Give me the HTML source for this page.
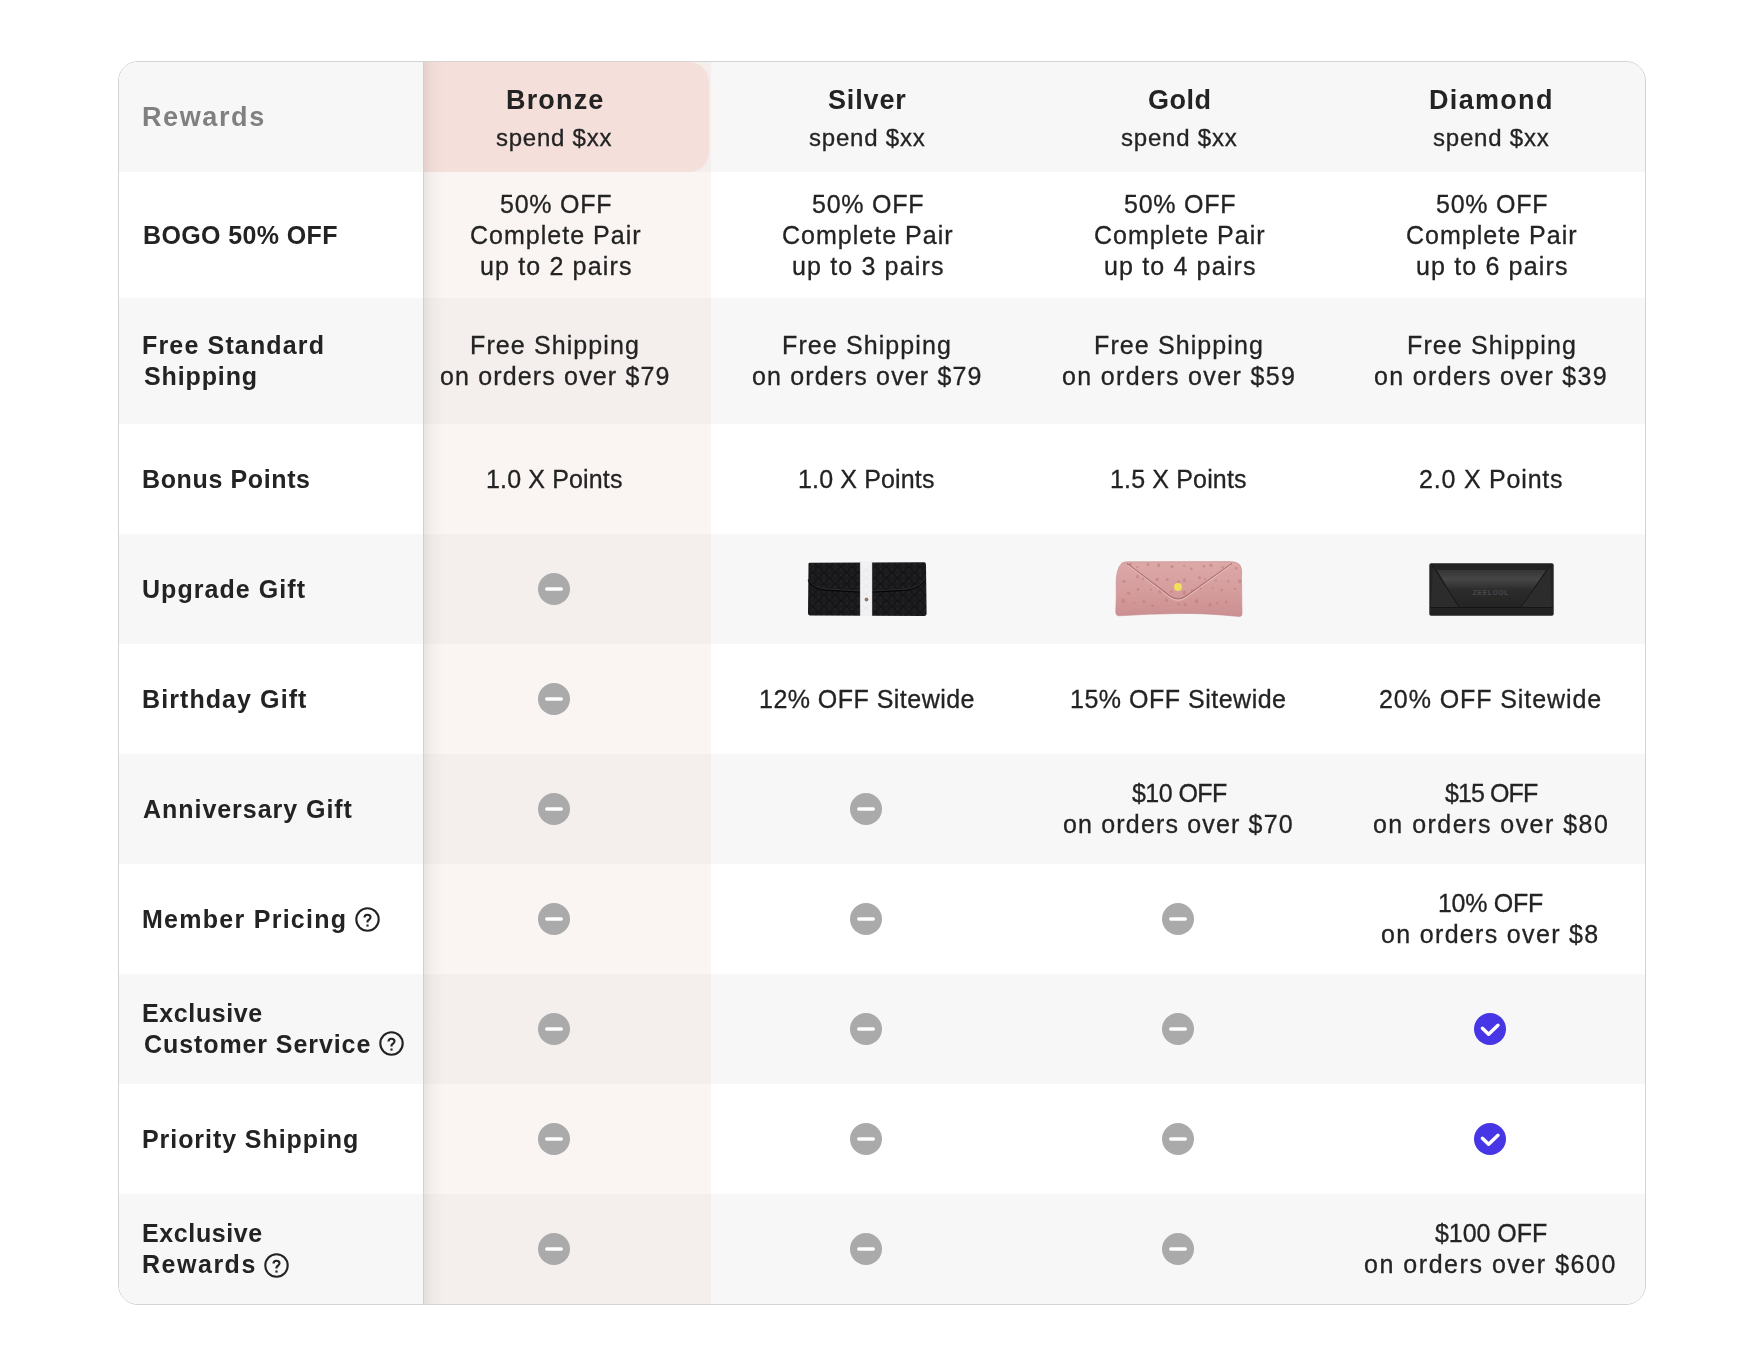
<!DOCTYPE html><html><head><meta charset="utf-8"><style>*{margin:0;padding:0;box-sizing:border-box}
html,body{width:1764px;height:1367px;background:#fff;overflow:hidden}
body{font-family:"Liberation Sans",sans-serif;color:#232323;position:relative}
#t{position:absolute;left:118px;top:61px;width:1528px;height:1244px;border:1px solid #d3d3d3;border-radius:20px;overflow:hidden;background:#fff}
.r{position:absolute;left:0;width:1526px}
.g{background:#f7f7f7}.w{background:#fff}
.tint{position:absolute}.wt{background:#faf5f3}.gt{background:#f4efed}
.pink{position:absolute;background:#f4dfdb;border-radius:0 20px 20px 0}
.lab{position:absolute;left:0;width:305px;border-right:1px solid #d0d0d0}
.shadow{position:absolute;top:0;left:305px;width:20px;height:1242px;background:linear-gradient(to right,rgba(0,0,0,0.065),rgba(0,0,0,0.025) 40%,rgba(0,0,0,0))}
.x{position:absolute;white-space:nowrap;line-height:31px;height:31px;will-change:transform}
.i{position:absolute}.i svg{display:block}
</style></head><body><div id="t">
<div class="r g" style="top:0px;height:110px"></div>
<div class="r w" style="top:110px;height:126px"></div>
<div class="r g" style="top:236px;height:126px"></div>
<div class="r w" style="top:362px;height:110px"></div>
<div class="r g" style="top:472px;height:110px"></div>
<div class="r w" style="top:582px;height:110px"></div>
<div class="r g" style="top:692px;height:110px"></div>
<div class="r w" style="top:802px;height:110px"></div>
<div class="r g" style="top:912px;height:110px"></div>
<div class="r w" style="top:1022px;height:110px"></div>
<div class="r g" style="top:1132px;height:110px"></div>
<div class="tint gt" style="left:280px;width:312px;top:0px;height:110px"></div>
<div class="tint wt" style="left:280px;width:312px;top:110px;height:126px"></div>
<div class="tint gt" style="left:280px;width:312px;top:236px;height:126px"></div>
<div class="tint wt" style="left:280px;width:312px;top:362px;height:110px"></div>
<div class="tint gt" style="left:280px;width:312px;top:472px;height:110px"></div>
<div class="tint wt" style="left:280px;width:312px;top:582px;height:110px"></div>
<div class="tint gt" style="left:280px;width:312px;top:692px;height:110px"></div>
<div class="tint wt" style="left:280px;width:312px;top:802px;height:110px"></div>
<div class="tint gt" style="left:280px;width:312px;top:912px;height:110px"></div>
<div class="tint wt" style="left:280px;width:312px;top:1022px;height:110px"></div>
<div class="tint gt" style="left:280px;width:312px;top:1132px;height:110px"></div>
<div class="pink" style="left:280px;top:0;width:310px;height:110px"></div>
<div class="i" style="left:419.00px;top:621.00px"><svg width="32" height="32" viewBox="0 0 32 32"><circle cx="16" cy="16" r="16" fill="#aaaaaa"/><line x1="8.75" y1="16" x2="23.25" y2="16" stroke="#fff" stroke-width="3.5" stroke-linecap="round"/></svg></div>
<div class="i" style="left:419.00px;top:731.00px"><svg width="32" height="32" viewBox="0 0 32 32"><circle cx="16" cy="16" r="16" fill="#aaaaaa"/><line x1="8.75" y1="16" x2="23.25" y2="16" stroke="#fff" stroke-width="3.5" stroke-linecap="round"/></svg></div>
<div class="i" style="left:731.00px;top:731.00px"><svg width="32" height="32" viewBox="0 0 32 32"><circle cx="16" cy="16" r="16" fill="#aaaaaa"/><line x1="8.75" y1="16" x2="23.25" y2="16" stroke="#fff" stroke-width="3.5" stroke-linecap="round"/></svg></div>
<div class="i" style="left:419.00px;top:841.00px"><svg width="32" height="32" viewBox="0 0 32 32"><circle cx="16" cy="16" r="16" fill="#aaaaaa"/><line x1="8.75" y1="16" x2="23.25" y2="16" stroke="#fff" stroke-width="3.5" stroke-linecap="round"/></svg></div>
<div class="i" style="left:731.00px;top:841.00px"><svg width="32" height="32" viewBox="0 0 32 32"><circle cx="16" cy="16" r="16" fill="#aaaaaa"/><line x1="8.75" y1="16" x2="23.25" y2="16" stroke="#fff" stroke-width="3.5" stroke-linecap="round"/></svg></div>
<div class="i" style="left:1043.00px;top:841.00px"><svg width="32" height="32" viewBox="0 0 32 32"><circle cx="16" cy="16" r="16" fill="#aaaaaa"/><line x1="8.75" y1="16" x2="23.25" y2="16" stroke="#fff" stroke-width="3.5" stroke-linecap="round"/></svg></div>
<div class="i" style="left:419.00px;top:951.00px"><svg width="32" height="32" viewBox="0 0 32 32"><circle cx="16" cy="16" r="16" fill="#aaaaaa"/><line x1="8.75" y1="16" x2="23.25" y2="16" stroke="#fff" stroke-width="3.5" stroke-linecap="round"/></svg></div>
<div class="i" style="left:731.00px;top:951.00px"><svg width="32" height="32" viewBox="0 0 32 32"><circle cx="16" cy="16" r="16" fill="#aaaaaa"/><line x1="8.75" y1="16" x2="23.25" y2="16" stroke="#fff" stroke-width="3.5" stroke-linecap="round"/></svg></div>
<div class="i" style="left:1043.00px;top:951.00px"><svg width="32" height="32" viewBox="0 0 32 32"><circle cx="16" cy="16" r="16" fill="#aaaaaa"/><line x1="8.75" y1="16" x2="23.25" y2="16" stroke="#fff" stroke-width="3.5" stroke-linecap="round"/></svg></div>
<div class="i" style="left:419.00px;top:1061.00px"><svg width="32" height="32" viewBox="0 0 32 32"><circle cx="16" cy="16" r="16" fill="#aaaaaa"/><line x1="8.75" y1="16" x2="23.25" y2="16" stroke="#fff" stroke-width="3.5" stroke-linecap="round"/></svg></div>
<div class="i" style="left:731.00px;top:1061.00px"><svg width="32" height="32" viewBox="0 0 32 32"><circle cx="16" cy="16" r="16" fill="#aaaaaa"/><line x1="8.75" y1="16" x2="23.25" y2="16" stroke="#fff" stroke-width="3.5" stroke-linecap="round"/></svg></div>
<div class="i" style="left:1043.00px;top:1061.00px"><svg width="32" height="32" viewBox="0 0 32 32"><circle cx="16" cy="16" r="16" fill="#aaaaaa"/><line x1="8.75" y1="16" x2="23.25" y2="16" stroke="#fff" stroke-width="3.5" stroke-linecap="round"/></svg></div>
<div class="i" style="left:419.00px;top:1171.00px"><svg width="32" height="32" viewBox="0 0 32 32"><circle cx="16" cy="16" r="16" fill="#aaaaaa"/><line x1="8.75" y1="16" x2="23.25" y2="16" stroke="#fff" stroke-width="3.5" stroke-linecap="round"/></svg></div>
<div class="i" style="left:731.00px;top:1171.00px"><svg width="32" height="32" viewBox="0 0 32 32"><circle cx="16" cy="16" r="16" fill="#aaaaaa"/><line x1="8.75" y1="16" x2="23.25" y2="16" stroke="#fff" stroke-width="3.5" stroke-linecap="round"/></svg></div>
<div class="i" style="left:1043.00px;top:1171.00px"><svg width="32" height="32" viewBox="0 0 32 32"><circle cx="16" cy="16" r="16" fill="#aaaaaa"/><line x1="8.75" y1="16" x2="23.25" y2="16" stroke="#fff" stroke-width="3.5" stroke-linecap="round"/></svg></div>
<div class="i" style="left:419.00px;top:511.00px"><svg width="32" height="32" viewBox="0 0 32 32"><circle cx="16" cy="16" r="16" fill="#aaaaaa"/><line x1="8.75" y1="16" x2="23.25" y2="16" stroke="#fff" stroke-width="3.5" stroke-linecap="round"/></svg></div>
<div class="i" style="left:1355.00px;top:951.00px"><svg width="32" height="32" viewBox="0 0 32 32"><circle cx="16" cy="16" r="16" fill="#4636e6"/><polyline points="8.4,15.2 14.6,21.3 24.0,12.3" fill="none" stroke="#fff" stroke-width="3.4" stroke-linecap="round" stroke-linejoin="round"/></svg></div>
<div class="i" style="left:1355.00px;top:1061.00px"><svg width="32" height="32" viewBox="0 0 32 32"><circle cx="16" cy="16" r="16" fill="#4636e6"/><polyline points="8.4,15.2 14.6,21.3 24.0,12.3" fill="none" stroke="#fff" stroke-width="3.4" stroke-linecap="round" stroke-linejoin="round"/></svg></div>
<div class="i" style="left:687.85px;top:499.30px"><svg width="120" height="56" viewBox="0 0 120 56"><defs><pattern id="wv" width="8" height="8" patternUnits="userSpaceOnUse" patternTransform="rotate(45)"><rect width="8" height="8" fill="#1b1b1e"/><path d="M0 4 H4 V0 M4 8 V4 H8" stroke="#0f0f11" stroke-width="0.9" fill="none"/><rect x="1" y="1" width="2.2" height="2.2" fill="#222226"/><rect x="5" y="5" width="2.2" height="2.2" fill="#222226"/></pattern></defs>
<path d="M1.5 2.8 Q1.2 1.8 3 1.7 L117 1.2 Q119 1.3 119 3.5 L119.6 52.5 Q119.6 55 117 55 L3 54.4 Q0.8 54.2 1 52 Z" fill="url(#wv)"/>
<path d="M1.2 19 Q4 27 18 29 L53 31 M65 31 L100 29 Q114 27 118.5 18" fill="none" stroke="#050507" stroke-width="1.3"/>
<path d="M1.2 18 Q4 26 18 28 L53 30 M65 30 L100 28 Q114 26 118.5 17" fill="none" stroke="#34343a" stroke-width="0.7"/>
<rect x="53.2" y="0.2" width="11.8" height="54.8" fill="#f1f1f3"/><path d="M53.4 0 V55 M64.8 0 V55" stroke="#dcdce0" stroke-width="0.7"/>
<path d="M55 6 L63 12 M55 14 L63 20 M55 22 L63 28 M55 30 L63 36 M55 44 L63 50 M63 6 L55 12 M63 14 L55 20 M63 22 L55 28 M63 30 L55 36 M63 44 L55 50" stroke="#e4e4e8" stroke-width="0.6"/>
<circle cx="59.5" cy="38.5" r="1.9" fill="#8c7c68"/></svg></div>
<div class="i" style="left:995.90px;top:499.10px"><svg width="128" height="56" viewBox="0 0 128 56"><defs><linearGradient id="pk" x1="0" y1="0" x2="0" y2="1"><stop offset="0" stop-color="#dca9a8"/><stop offset="0.55" stop-color="#d69d9d"/><stop offset="1" stop-color="#cb8f91"/></linearGradient><clipPath id="pc"><path d="M7 2 Q9 0.6 14 0.8 L114 0.6 Q122 0.6 125 4 Q127.5 8 126.5 16 L127 53 Q127 55.6 124 55.5 Q90 52 64 52.5 Q34 52.8 4 54.8 Q0.5 55 0.8 50 Q1.5 35 1.2 22 Q1 8 7 2 Z"/></clipPath></defs>
<path d="M7 2 Q9 0.6 14 0.8 L114 0.6 Q122 0.6 125 4 Q127.5 8 126.5 16 L127 53 Q127 55.6 124 55.5 Q90 52 64 52.5 Q34 52.8 4 54.8 Q0.5 55 0.8 50 Q1.5 35 1.2 22 Q1 8 7 2 Z" fill="url(#pk)" stroke="#c48c8e" stroke-width="0.6"/>
<g clip-path="url(#pc)" fill="#c27a7e" opacity="0.6"><ellipse cx="15.4" cy="3.4" rx="1.5" ry="1.4"/><ellipse cx="22.3" cy="6.0" rx="1.1" ry="1.1"/><ellipse cx="32.9" cy="3.5" rx="1.4" ry="1.7"/><ellipse cx="43.7" cy="4.3" rx="1.5" ry="2.0"/><ellipse cx="57.0" cy="5.4" rx="1.8" ry="1.5"/><ellipse cx="69.2" cy="4.7" rx="1.2" ry="1.0"/><ellipse cx="76.4" cy="7.9" rx="1.2" ry="1.3"/><ellipse cx="88.8" cy="5.2" rx="1.5" ry="1.2"/><ellipse cx="95.9" cy="4.2" rx="1.6" ry="1.6"/><ellipse cx="107.9" cy="6.5" rx="1.4" ry="1.3"/><ellipse cx="121.3" cy="7.2" rx="1.3" ry="1.4"/><ellipse cx="9.2" cy="20.3" rx="1.6" ry="1.5"/><ellipse cx="22.4" cy="15.7" rx="1.4" ry="1.6"/><ellipse cx="27.9" cy="17.9" rx="1.1" ry="1.3"/><ellipse cx="42.1" cy="18.4" rx="1.7" ry="1.6"/><ellipse cx="52.2" cy="18.6" rx="1.5" ry="1.5"/><ellipse cx="63.5" cy="20.7" rx="1.4" ry="1.6"/><ellipse cx="69.4" cy="19.2" rx="1.6" ry="2.0"/><ellipse cx="84.4" cy="16.7" rx="1.4" ry="1.6"/><ellipse cx="90.1" cy="17.8" rx="1.2" ry="1.0"/><ellipse cx="100.9" cy="19.6" rx="1.2" ry="1.1"/><ellipse cx="113.3" cy="20.2" rx="1.2" ry="1.2"/><ellipse cx="124.8" cy="20.3" rx="1.7" ry="2.1"/><ellipse cx="13.7" cy="32.3" rx="1.8" ry="1.5"/><ellipse cx="23.1" cy="28.4" rx="1.3" ry="1.3"/><ellipse cx="36.0" cy="28.6" rx="1.1" ry="1.1"/><ellipse cx="45.2" cy="30.4" rx="1.8" ry="2.0"/><ellipse cx="56.6" cy="30.7" rx="1.6" ry="1.3"/><ellipse cx="69.4" cy="31.7" rx="1.7" ry="2.1"/><ellipse cx="76.9" cy="29.4" rx="1.2" ry="1.3"/><ellipse cx="85.4" cy="27.4" rx="1.2" ry="1.1"/><ellipse cx="97.5" cy="27.3" rx="1.1" ry="1.0"/><ellipse cx="106.6" cy="29.2" rx="1.1" ry="1.4"/><ellipse cx="120.2" cy="27.9" rx="1.3" ry="1.2"/><ellipse cx="8.2" cy="39.7" rx="1.7" ry="2.2"/><ellipse cx="19.3" cy="41.9" rx="1.2" ry="1.0"/><ellipse cx="29.1" cy="40.6" rx="1.7" ry="1.5"/><ellipse cx="37.6" cy="44.7" rx="1.5" ry="1.3"/><ellipse cx="51.3" cy="39.2" rx="1.5" ry="1.9"/><ellipse cx="63.7" cy="43.2" rx="1.3" ry="1.3"/><ellipse cx="70.0" cy="43.6" rx="1.5" ry="1.8"/><ellipse cx="81.5" cy="40.3" rx="1.7" ry="2.2"/><ellipse cx="95.1" cy="43.8" rx="1.7" ry="2.0"/><ellipse cx="101.9" cy="42.1" rx="1.3" ry="1.1"/><ellipse cx="111.2" cy="40.7" rx="1.3" ry="1.5"/></g>
<path d="M12 2.5 L55 35 Q63 40.5 71 35 L117 2.5" fill="none" stroke="#ad7276" stroke-width="1.2"/>
<path d="M13 4.2 L55 36.6 Q63 42.2 71 36.6 L116 4.2" fill="none" stroke="#e9c2c1" stroke-width="0.9"/>
<circle cx="63" cy="25.9" r="3.9" fill="#efe25a"/></svg></div>
<div class="i" style="left:1309.50px;top:501.05px"><svg width="125" height="53" viewBox="0 0 125 53"><defs><linearGradient id="lg" x1="0" y1="0" x2="0" y2="1"><stop offset="0" stop-color="#353535"/><stop offset="0.25" stop-color="#464646"/><stop offset="0.55" stop-color="#2b2b2b"/><stop offset="1" stop-color="#242424"/></linearGradient></defs>
<rect x="0.3" y="0.3" width="124.4" height="52.4" rx="1.8" fill="#232323"/>
<path d="M2 44 L4 3 L30 44 Z M123 44 L121 3 L92 44 Z" fill="#2c2c2c"/>
<path d="M8 7 L117 7 L92 44 L30 44 Z" fill="url(#lg)"/>
<path d="M3 2 L30 44 M122 2 L92 44" stroke="#141414" stroke-width="0.8"/>
<path d="M1 44.5 H124" stroke="#141414" stroke-width="0.9"/>
<text x="62" y="31.5" font-family="Liberation Sans" font-size="6.5" font-weight="700" letter-spacing="0.8" fill="#4a4a4a" text-anchor="middle">ZEELOOL</text></svg></div>
<div class="lab g" style="top:0px;height:110px"></div>
<div class="lab w" style="top:110px;height:126px"></div>
<div class="lab g" style="top:236px;height:126px"></div>
<div class="lab w" style="top:362px;height:110px"></div>
<div class="lab g" style="top:472px;height:110px"></div>
<div class="lab w" style="top:582px;height:110px"></div>
<div class="lab g" style="top:692px;height:110px"></div>
<div class="lab w" style="top:802px;height:110px"></div>
<div class="lab g" style="top:912px;height:110px"></div>
<div class="lab w" style="top:1022px;height:110px"></div>
<div class="lab g" style="top:1132px;height:110px"></div>
<div class="shadow"></div>
<div class="x" style="left:23.40px;top:40px;font-size:27px;font-weight:700;letter-spacing:1.600px;color:#808080">Rewards</div>
<div class="x" style="left:387.00px;top:23px;font-size:27px;font-weight:700;letter-spacing:1.160px;color:#232323">Bronze</div>
<div class="x" style="left:709.30px;top:23px;font-size:27px;font-weight:700;letter-spacing:0.860px;color:#232323">Silver</div>
<div class="x" style="left:1028.50px;top:23px;font-size:27px;font-weight:700;letter-spacing:0.533px;color:#232323">Gold</div>
<div class="x" style="left:1310.00px;top:23px;font-size:27px;font-weight:700;letter-spacing:1.317px;color:#232323">Diamond</div>
<div class="x" style="left:377.30px;top:60px;font-size:24px;-webkit-text-stroke:0.3px #232323;letter-spacing:0.750px;color:#232323">spend $xx</div>
<div class="x" style="left:689.80px;top:60px;font-size:24px;-webkit-text-stroke:0.3px #232323;letter-spacing:0.800px;color:#232323">spend $xx</div>
<div class="x" style="left:1001.80px;top:60px;font-size:24px;-webkit-text-stroke:0.3px #232323;letter-spacing:0.800px;color:#232323">spend $xx</div>
<div class="x" style="left:1313.80px;top:60px;font-size:24px;-webkit-text-stroke:0.3px #232323;letter-spacing:0.800px;color:#232323">spend $xx</div>
<div class="x" style="left:23.60px;top:158px;font-size:25px;font-weight:700;letter-spacing:0.373px;color:#232323">BOGO 50% OFF</div>
<div class="x" style="left:23.20px;top:268px;font-size:25px;font-weight:700;letter-spacing:1.158px;color:#232323">Free Standard</div>
<div class="x" style="left:24.60px;top:299px;font-size:25px;font-weight:700;letter-spacing:0.886px;color:#232323">Shipping</div>
<div class="x" style="left:23.10px;top:402px;font-size:25px;font-weight:700;letter-spacing:0.627px;color:#232323">Bonus Points</div>
<div class="x" style="left:23.10px;top:512px;font-size:25px;font-weight:700;letter-spacing:1.055px;color:#232323">Upgrade Gift</div>
<div class="x" style="left:23.10px;top:622px;font-size:25px;font-weight:700;letter-spacing:1.083px;color:#232323">Birthday Gift</div>
<div class="x" style="left:23.80px;top:732px;font-size:25px;font-weight:700;letter-spacing:0.960px;color:#232323">Anniversary Gift</div>
<div class="x" style="left:23.20px;top:842px;font-size:25px;font-weight:700;letter-spacing:1.269px;color:#232323">Member Pricing</div>
<div class="x" style="left:23.20px;top:936px;font-size:25px;font-weight:700;letter-spacing:0.612px;color:#232323">Exclusive</div>
<div class="x" style="left:24.60px;top:967px;font-size:25px;font-weight:700;letter-spacing:0.913px;color:#232323">Customer Service</div>
<div class="x" style="left:23.20px;top:1062px;font-size:25px;font-weight:700;letter-spacing:0.931px;color:#232323">Priority Shipping</div>
<div class="x" style="left:23.20px;top:1156px;font-size:25px;font-weight:700;letter-spacing:0.612px;color:#232323">Exclusive</div>
<div class="x" style="left:23.20px;top:1187px;font-size:25px;font-weight:700;letter-spacing:1.517px;color:#232323">Rewards</div>
<div class="x" style="left:380.70px;top:127px;font-size:25px;-webkit-text-stroke:0.3px #232323;letter-spacing:0.750px;color:#232323">50% OFF</div>
<div class="x" style="left:350.60px;top:158px;font-size:25px;-webkit-text-stroke:0.3px #232323;letter-spacing:1.017px;color:#232323">Complete Pair</div>
<div class="x" style="left:360.80px;top:189px;font-size:25px;-webkit-text-stroke:0.3px #232323;letter-spacing:1.150px;color:#232323">up to 2 pairs</div>
<div class="x" style="left:351.40px;top:268px;font-size:25px;-webkit-text-stroke:0.3px #232323;letter-spacing:1.108px;color:#232323">Free Shipping</div>
<div class="x" style="left:692.70px;top:127px;font-size:25px;-webkit-text-stroke:0.3px #232323;letter-spacing:0.750px;color:#232323">50% OFF</div>
<div class="x" style="left:662.60px;top:158px;font-size:25px;-webkit-text-stroke:0.3px #232323;letter-spacing:1.017px;color:#232323">Complete Pair</div>
<div class="x" style="left:672.80px;top:189px;font-size:25px;-webkit-text-stroke:0.3px #232323;letter-spacing:1.150px;color:#232323">up to 3 pairs</div>
<div class="x" style="left:663.40px;top:268px;font-size:25px;-webkit-text-stroke:0.3px #232323;letter-spacing:1.108px;color:#232323">Free Shipping</div>
<div class="x" style="left:1004.70px;top:127px;font-size:25px;-webkit-text-stroke:0.3px #232323;letter-spacing:0.750px;color:#232323">50% OFF</div>
<div class="x" style="left:974.60px;top:158px;font-size:25px;-webkit-text-stroke:0.3px #232323;letter-spacing:1.017px;color:#232323">Complete Pair</div>
<div class="x" style="left:984.80px;top:189px;font-size:25px;-webkit-text-stroke:0.3px #232323;letter-spacing:1.150px;color:#232323">up to 4 pairs</div>
<div class="x" style="left:975.30px;top:268px;font-size:25px;-webkit-text-stroke:0.3px #232323;letter-spacing:1.108px;color:#232323">Free Shipping</div>
<div class="x" style="left:1316.70px;top:127px;font-size:25px;-webkit-text-stroke:0.3px #232323;letter-spacing:0.750px;color:#232323">50% OFF</div>
<div class="x" style="left:1286.60px;top:158px;font-size:25px;-webkit-text-stroke:0.3px #232323;letter-spacing:1.017px;color:#232323">Complete Pair</div>
<div class="x" style="left:1296.80px;top:189px;font-size:25px;-webkit-text-stroke:0.3px #232323;letter-spacing:1.150px;color:#232323">up to 6 pairs</div>
<div class="x" style="left:1287.50px;top:268px;font-size:25px;-webkit-text-stroke:0.3px #232323;letter-spacing:1.108px;color:#232323">Free Shipping</div>
<div class="x" style="left:320.90px;top:299px;font-size:25px;-webkit-text-stroke:0.3px #232323;letter-spacing:1.153px;color:#232323">on orders over $79</div>
<div class="x" style="left:632.90px;top:299px;font-size:25px;-webkit-text-stroke:0.3px #232323;letter-spacing:1.153px;color:#232323">on orders over $79</div>
<div class="x" style="left:943.30px;top:299px;font-size:25px;-webkit-text-stroke:0.3px #232323;letter-spacing:1.353px;color:#232323">on orders over $59</div>
<div class="x" style="left:1255.30px;top:299px;font-size:25px;-webkit-text-stroke:0.3px #232323;letter-spacing:1.347px;color:#232323">on orders over $39</div>
<div class="x" style="left:366.70px;top:402px;font-size:25px;-webkit-text-stroke:0.3px #232323;letter-spacing:0.145px;color:#232323">1.0 X Points</div>
<div class="x" style="left:678.70px;top:402px;font-size:25px;-webkit-text-stroke:0.3px #232323;letter-spacing:0.145px;color:#232323">1.0 X Points</div>
<div class="x" style="left:991.00px;top:402px;font-size:25px;-webkit-text-stroke:0.3px #232323;letter-spacing:0.155px;color:#232323">1.5 X Points</div>
<div class="x" style="left:1299.70px;top:402px;font-size:25px;-webkit-text-stroke:0.3px #232323;letter-spacing:0.800px;color:#232323">2.0 X Points</div>
<div class="x" style="left:639.50px;top:622px;font-size:25px;-webkit-text-stroke:0.3px #232323;letter-spacing:0.473px;color:#232323">12% OFF Sitewide</div>
<div class="x" style="left:950.90px;top:622px;font-size:25px;-webkit-text-stroke:0.3px #232323;letter-spacing:0.507px;color:#232323">15% OFF Sitewide</div>
<div class="x" style="left:1259.60px;top:622px;font-size:25px;-webkit-text-stroke:0.3px #232323;letter-spacing:0.913px;color:#232323">20% OFF Sitewide</div>
<div class="x" style="left:1012.80px;top:716px;font-size:25px;-webkit-text-stroke:0.3px #232323;letter-spacing:-0.550px;color:#232323">$10 OFF</div>
<div class="x" style="left:944.30px;top:747px;font-size:25px;-webkit-text-stroke:0.3px #232323;letter-spacing:1.165px;color:#232323">on orders over $70</div>
<div class="x" style="left:1325.70px;top:716px;font-size:25px;-webkit-text-stroke:0.3px #232323;letter-spacing:-0.900px;color:#232323">$15 OFF</div>
<div class="x" style="left:1254.30px;top:747px;font-size:25px;-webkit-text-stroke:0.3px #232323;letter-spacing:1.471px;color:#232323">on orders over $80</div>
<div class="x" style="left:1318.50px;top:826px;font-size:25px;-webkit-text-stroke:0.3px #232323;letter-spacing:-0.300px;color:#232323">10% OFF</div>
<div class="x" style="left:1262.40px;top:857px;font-size:25px;-webkit-text-stroke:0.3px #232323;letter-spacing:1.331px;color:#232323">on orders over $8</div>
<div class="x" style="left:1316.40px;top:1156px;font-size:25px;-webkit-text-stroke:0.3px #232323;letter-spacing:-0.057px;color:#232323">$100 OFF</div>
<div class="x" style="left:1245.30px;top:1187px;font-size:25px;-webkit-text-stroke:0.3px #232323;letter-spacing:1.533px;color:#232323">on orders over $600</div>
<div class="i" style="left:235.50px;top:845.30px"><svg width="25" height="25" viewBox="0 0 25 25"><circle cx="12.5" cy="12.5" r="11.2" fill="none" stroke="#232323" stroke-width="2.1"/><path d="M9.5 10.6 C9.5 8.7 10.9 7.7 12.5 7.7 C14.2 7.7 15.5 8.8 15.5 10.3 C15.5 12.3 13.3 12.6 12.5 14.4 L12.5 15.6" fill="none" stroke="#232323" stroke-width="2.1"/><rect x="11.4" y="17.5" width="2.2" height="2.1" fill="#232323"/></svg></div>
<div class="i" style="left:259.60px;top:969.20px"><svg width="25" height="25" viewBox="0 0 25 25"><circle cx="12.5" cy="12.5" r="11.2" fill="none" stroke="#232323" stroke-width="2.1"/><path d="M9.5 10.6 C9.5 8.7 10.9 7.7 12.5 7.7 C14.2 7.7 15.5 8.8 15.5 10.3 C15.5 12.3 13.3 12.6 12.5 14.4 L12.5 15.6" fill="none" stroke="#232323" stroke-width="2.1"/><rect x="11.4" y="17.5" width="2.2" height="2.1" fill="#232323"/></svg></div>
<div class="i" style="left:144.50px;top:1191.30px"><svg width="25" height="25" viewBox="0 0 25 25"><circle cx="12.5" cy="12.5" r="11.2" fill="none" stroke="#232323" stroke-width="2.1"/><path d="M9.5 10.6 C9.5 8.7 10.9 7.7 12.5 7.7 C14.2 7.7 15.5 8.8 15.5 10.3 C15.5 12.3 13.3 12.6 12.5 14.4 L12.5 15.6" fill="none" stroke="#232323" stroke-width="2.1"/><rect x="11.4" y="17.5" width="2.2" height="2.1" fill="#232323"/></svg></div>
</div></body></html>
